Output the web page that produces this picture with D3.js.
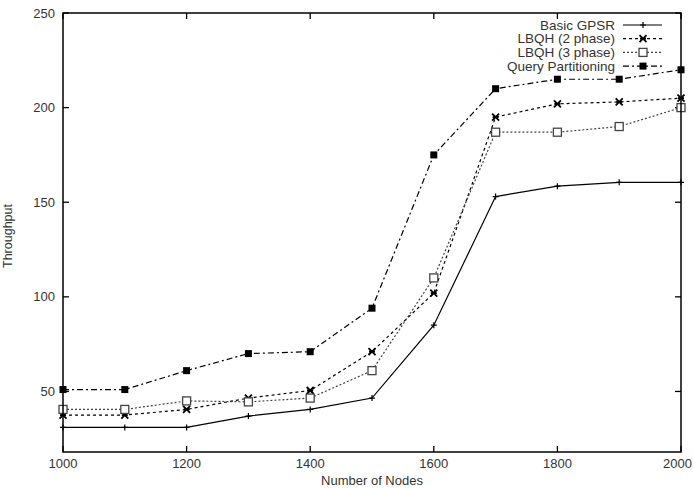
<!DOCTYPE html>
<html>
<head>
<meta charset="utf-8">
<script src="https://cdn.jsdelivr.net/npm/d3@7"></script>
<style>
  body { margin: 0; background: #fff; }
  text { font-family: "Liberation Sans", Arial, sans-serif; fill: #333; }
</style>
</head>
<body>
<script>
// x values (number of nodes)
var nodes = [1000, 1100, 1200, 1300, 1400, 1500, 1600, 1700, 1800, 1900, 2000];

var basicGpsr = [31, 31, 31, 37, 40.5, 46.5, 85, 153, 158.5, 160.5, 160.5];
var lbqh2 = [37.5, 37.5, 40.5, 46.5, 50.5, 71, 102, 195, 202, 203, 205];
var lbqh3 = [40.5, 40.5, 45, 44.5, 46.5, 61, 110, 187, 187, 190, 200];
var queryPart = [51, 51, 61, 70, 71, 94, 175, 210, 215, 215, 220];

var seriesNames = ["Basic GPSR", "LBQH (2 phase)", "LBQH (3 phase)", "Query Partitioning"];
var xTicks = [1000, 1200, 1400, 1600, 1800, 2000];
var yTicks = [50, 100, 150, 200, 250];

var width = 693, height = 489;
var margin = {left: 63, right: 12, top: 13, bottom: 37};

var svg = d3.select("body").append("svg")
    .attr("width", width).attr("height", height);

var x = d3.scaleLinear().domain([1000, 2000]).range([margin.left, width - margin.right]);
var y = d3.scaleLinear().domain([18, 250]).range([height - margin.bottom, margin.top]);

var styles = [
  {data: basicGpsr, dash: null, color: "#000", marker: "plus"},
  {data: lbqh2, dash: "3,3", color: "#000", marker: "cross"},
  {data: lbqh3, dash: "2,2", color: "#444", marker: "box"},
  {data: queryPart, dash: "6,3,2,3", color: "#000", marker: "fbox"}
];

// ticks (mirrored, pointing inward)
var tl = 6;
var ticks = svg.append("g").attr("stroke", "#000").attr("stroke-width", 1.3);
xTicks.forEach(function(t){
  ticks.append("line").attr("x1", x(t)).attr("x2", x(t)).attr("y1", y(18)).attr("y2", y(18) - tl);
  ticks.append("line").attr("x1", x(t)).attr("x2", x(t)).attr("y1", y(250)).attr("y2", y(250) + tl);
});
yTicks.forEach(function(t){
  ticks.append("line").attr("x1", x(1000)).attr("x2", x(1000) + tl).attr("y1", y(t)).attr("y2", y(t));
  ticks.append("line").attr("x1", x(2000)).attr("x2", x(2000) - tl).attr("y1", y(t)).attr("y2", y(t));
});

// last label would run off the page, so pin it to the right edge
svg.append("g").selectAll("text").data(xTicks).enter().append("text")
   .attr("x", function(d){ return d == 2000 ? width - 1 : x(d); })
   .attr("y", height - margin.bottom + 16)
   .attr("text-anchor", function(d){ return d == 2000 ? "end" : "middle"; })
   .attr("font-size", 13)
   .text(function(d){ return d; });

svg.append("g").selectAll("text").data(yTicks).enter().append("text")
   .attr("x", margin.left - 8)
   .attr("y", function(d){ return y(d) + 4.5; })
   .attr("text-anchor", "end").attr("font-size", 13)
   .text(function(d){ return d; });

svg.append("text").attr("x", (x(1000) + x(2000)) / 2).attr("y", 485)
   .attr("text-anchor", "middle").attr("font-size", 13).text("Number of Nodes");
svg.append("text").attr("transform", "translate(12," + 236 + ") rotate(-90)")
   .attr("text-anchor", "middle").attr("font-size", 12.5).text("Throughput");

function drawMarker(g, kind, cx, cy, color) {
  if (kind == "plus") {
    g.append("path").attr("d", "M" + (cx - 3) + "," + cy + "h6M" + cx + "," + (cy - 3) + "v6")
     .attr("stroke", color).attr("stroke-width", 1.2);
  } else if (kind == "cross") {
    g.append("path").attr("d", "M" + (cx - 3.5) + "," + (cy - 3.5) + "l7,7M" + (cx - 3.5) + "," + (cy + 3.5) + "l7,-7M" + (cx - 3) + "," + cy + "h6")
     .attr("stroke", color).attr("stroke-width", 1.8);
  } else if (kind == "box") {
    g.append("rect").attr("x", cx - 4).attr("y", cy - 4).attr("width", 8).attr("height", 8)
     .attr("fill", "#fff").attr("stroke", color).attr("stroke-width", 1.3);
  } else {
    g.append("rect").attr("x", cx - 3.5).attr("y", cy - 3.5).attr("width", 7).attr("height", 7)
     .attr("fill", color);
  }
}

var line = d3.line().x(function(d, i){ return x(nodes[i]); }).y(function(d){ return y(d); });

styles.forEach(function(s){
  var g = svg.append("g");
  g.append("path").attr("d", line(s.data)).attr("fill", "none")
   .attr("stroke", s.color).attr("stroke-width", 1.2)
   .attr("stroke-dasharray", s.dash);
  s.data.forEach(function(v, i){ drawMarker(g, s.marker, x(nodes[i]), y(v), s.color); });
});

// legend
styles.forEach(function(s, i){
  var ly = 25 + i * 13.7;
  var g = svg.append("g");
  g.append("text").attr("x", 615).attr("y", ly + 4.5).attr("text-anchor", "end")
   .attr("font-size", 13.5).text(seriesNames[i]);
  g.append("line").attr("x1", 623).attr("x2", 662).attr("y1", ly).attr("y2", ly)
   .attr("stroke", s.color).attr("stroke-width", 1.2).attr("stroke-dasharray", s.dash);
  drawMarker(g, s.marker, 643, ly, s.color);
});

// frame
svg.append("rect").attr("x", x(1000)).attr("y", y(250))
   .attr("width", x(2000) - x(1000)).attr("height", y(18) - y(250))
   .attr("fill", "none").attr("stroke", "#000").attr("stroke-width", 1.5);
</script>
</body>
</html>
